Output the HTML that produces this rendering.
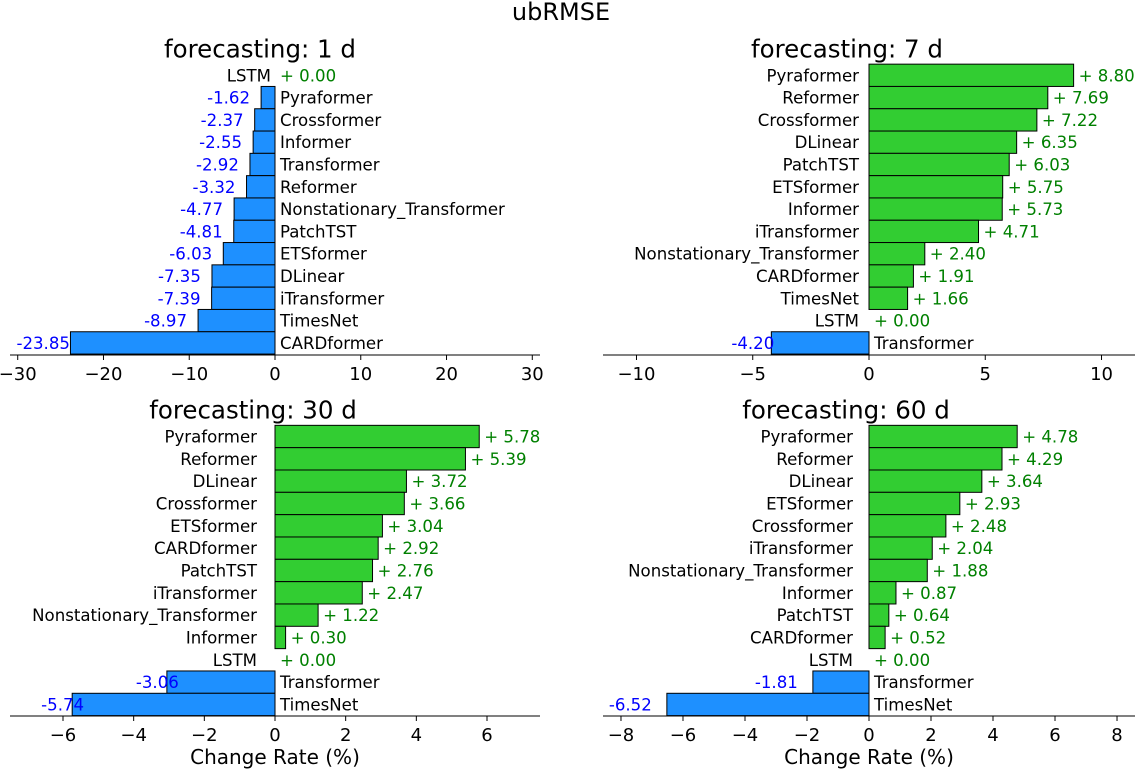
<!DOCTYPE html>
<html><head><meta charset="utf-8"><style>
body{margin:0;background:#fff;}
svg{display:block;font-family:"DejaVu Sans","Liberation Sans",sans-serif;}
</style></head><body>
<svg id="chart" width="1136" height="769" xmlns="http://www.w3.org/2000/svg">
<text x="561" y="20" font-size="24" text-anchor="middle">ubRMSE</text>
</svg>
<script>
const names1 = ["LSTM","Pyraformer","Crossformer","Informer","Transformer","Reformer","Nonstationary_Transformer","PatchTST","ETSformer","DLinear","iTransformer","TimesNet","CARDformer"];
const values1 = [0.00,-1.62,-2.37,-2.55,-2.92,-3.32,-4.77,-4.81,-6.03,-7.35,-7.39,-8.97,-23.85];
const ticks1 = [-30,-20,-10,0,10,20,30];
const names7 = ["Pyraformer","Reformer","Crossformer","DLinear","PatchTST","ETSformer","Informer","iTransformer","Nonstationary_Transformer","CARDformer","TimesNet","LSTM","Transformer"];
const values7 = [8.80,7.69,7.22,6.35,6.03,5.75,5.73,4.71,2.40,1.91,1.66,0.00,-4.20];
const ticks7 = [-10,-5,0,5,10];
const names30 = ["Pyraformer","Reformer","DLinear","Crossformer","ETSformer","CARDformer","PatchTST","iTransformer","Nonstationary_Transformer","Informer","LSTM","Transformer","TimesNet"];
const values30 = [5.78,5.39,3.72,3.66,3.04,2.92,2.76,2.47,1.22,0.30,0.00,-3.06,-5.74];
const ticks30 = [-6,-4,-2,0,2,4,6];
const names60 = ["Pyraformer","Reformer","DLinear","ETSformer","Crossformer","iTransformer","Nonstationary_Transformer","Informer","PatchTST","CARDformer","LSTM","Transformer","TimesNet"];
const values60 = [4.78,4.29,3.64,2.93,2.48,2.04,1.88,0.87,0.64,0.52,0.00,-1.81,-6.52];
const ticks60 = [-8,-6,-4,-2,0,2,4,6,8];

const svg = document.getElementById('chart');
const NS = 'http://www.w3.org/2000/svg';
function mk(tag, attrs, parent){const e=document.createElementNS(NS,tag);for(const k in attrs)e.setAttribute(k,attrs[k]);(parent||svg).appendChild(e);return e;}

function panel(id, title, titleX, names, values, ticks, x0px, x1px, xmin, xmax, axisY, firstRow, step, xlabel, negOff, nameOff){
  const g = mk('g',{});
  
  
  const sx = v => x0px + (v - xmin) / (xmax - xmin) * (x1px - x0px);
  const zx = sx(0);
  const t = mk('text',{x:titleX,y:firstRow-18,'font-size':24.5,'text-anchor':'middle'},g);
  t.textContent = title;
  
  
  values.forEach((v,i)=>{
    const cy = firstRow + i*step;
    const bx = sx(v);
    const r = mk('rect',{x:Math.min(bx,zx),y:cy-step/2,width:Math.abs(bx-zx),height:step,fill:v<0?'#1E90FF':'#32CD32',stroke:'#000','stroke-width':1},g);
    
    
    const nl = mk('text',{x:v<0?zx+5:zx-nameOff,y:cy+6,'font-size':16.6,'text-anchor':v<0?'start':'end'},g);
    nl.textContent = names[i];
    
    
    const vl = mk('text',{x:v<0?bx-negOff:bx+5,y:cy+6,'font-size':16.6,'text-anchor':'start',fill:v<0?'blue':'green'},g);
    vl.textContent = v<0 ? v.toFixed(2) : '+ ' + v.toFixed(2);
    
    
  });
  const ax = mk('line',{x1:x0px,x2:x1px,y1:axisY,y2:axisY,stroke:'#000','stroke-width':1},g);
  
  
  ticks.forEach(tv=>{
    const tx = sx(tv);
    mk('line',{x1:tx,x2:tx,y1:axisY,y2:axisY+5,stroke:'#000','stroke-width':1},g);
    const tl = mk('text',{x:tx,y:axisY+25,'font-size':18,'text-anchor':'middle'},g);
    tl.textContent = tv < 0 ? '\u2212' + Math.abs(tv) : String(tv);
    
    
  });
  if (xlabel){
    const xl = mk('text',{x:zx,y:axisY+48,'font-size':20,'text-anchor':'middle'},g);
    xl.textContent = xlabel;
    
    
  }
}
panel('panel-1d','forecasting: 1 d',260,names1,values1,ticks1,10,540,-30.9,30.9,355,75.3,22.3,null,54,4);
panel('panel-7d','forecasting: 7 d',847,names7,values7,ticks7,603,1135,-11.44,11.44,355,75.3,22.3,null,40,10);
panel('panel-30d','forecasting: 30 d',253,names30,values30,ticks30,10,540,-7.5,7.5,716,436.5,22.33,'Change Rate (%)',31,18);
panel('panel-60d','forecasting: 60 d',846,names60,values60,ticks60,603,1135,-8.58,8.58,716,436.5,22.33,'Change Rate (%)',58,16);
</script>
</body></html>
